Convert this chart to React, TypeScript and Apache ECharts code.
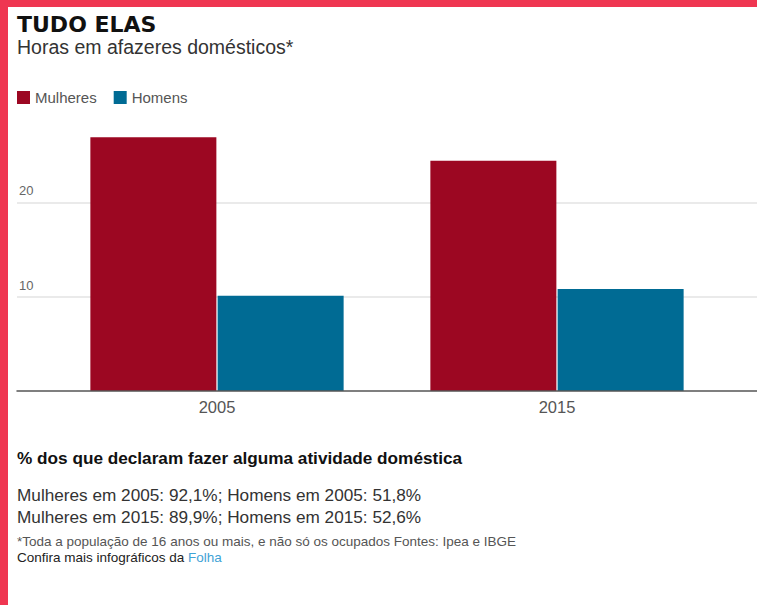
import { useEffect, useRef } from 'react';
import * as echarts from 'echarts';

const categories = ['2005', '2015'];
const seriesNames = ['Mulheres', 'Homens'];
const mulheresHoras = [26.9, 24.4];
const homensHoras = [10.1, 10.8];
const yMax = 30;
const yInterval = 10;
const pctMulheres = [92.1, 89.9];
const pctHomens = [51.8, 52.6];

const titleText = 'TUDO ELAS';
const subtitleText = 'Horas em afazeres domésticos*';
const headingText = '% dos que declaram fazer alguma atividade doméstica';
const footnoteText = '*Toda a população de 16 anos ou mais, e não só os ocupados Fontes: Ipea e IBGE';

const RED = '#9c0722';
const BLUE = '#006b94';
const FRAME = '#ef3651';
const FONT = '"Liberation Sans", Arial, sans-serif';

const fmt = (v: number) => v.toFixed(1).replace('.', ',') + '%';

export default function App() {
  const ref = useRef<HTMLDivElement>(null);
  useEffect(() => {
    const chart = echarts.init(ref.current!, null, { renderer: 'svg' });
    const statLines = categories.map(
      (c, i) => `Mulheres em ${c}: ${fmt(pctMulheres[i])}; Homens em ${c}: ${fmt(pctHomens[i])}`
    );
    const option: any = {
      animation: false,
      backgroundColor: '#fff',
      textStyle: { fontFamily: FONT },
      legend: {
        data: seriesNames,
        left: 17,
        top: 90,
        padding: 0,
        icon: 'rect',
        itemWidth: 13,
        itemHeight: 13,
        itemGap: 17,
        textStyle: { fontSize: 15, color: '#555', fontFamily: FONT },
      },
      grid: [
        { left: 17, right: 0, top: 108, bottom: 214 },
        { left: 47, right: 30, top: 108, bottom: 214 },
      ],
      xAxis: [
        {
          type: 'value',
          gridIndex: 0,
          min: 0,
          max: 1,
          z: 5,
          axisLine: { show: true, lineStyle: { color: '#555', width: 1.5 } },
          axisTick: { show: false },
          axisLabel: { show: false },
          splitLine: { show: false },
        },
        {
          type: 'category',
          gridIndex: 1,
          data: categories,
          axisLine: { show: false },
          axisTick: { show: false },
          axisLabel: { margin: 7, fontSize: 16.5, color: '#555', fontFamily: FONT },
        },
      ],
      yAxis: [
        {
          type: 'value',
          gridIndex: 0,
          min: 0,
          max: yMax,
          interval: yInterval,
          axisLine: { show: false },
          axisTick: { show: false },
          axisLabel: {
            inside: true,
            margin: 2,
            verticalAlign: 'bottom',
            padding: [0, 0, 5, 0],
            color: '#666',
            fontSize: 13,
            fontFamily: FONT,
            formatter: (v: number) => (v === 0 || v === yMax ? '' : String(v)),
          },
          splitLine: {
            show: true,
            showMinLine: false,
            showMaxLine: false,
            lineStyle: { color: '#e3e3e3', width: 1.5 },
          },
        },
        {
          type: 'value',
          gridIndex: 1,
          min: 0,
          max: yMax,
          interval: yInterval,
          show: false,
          splitLine: { show: false },
        },
      ],
      series: [
        {
          name: seriesNames[0],
          type: 'bar',
          xAxisIndex: 1,
          yAxisIndex: 1,
          data: mulheresHoras,
          barWidth: 126,
          barGap: '1%',
          itemStyle: { color: RED },
        },
        {
          name: seriesNames[1],
          type: 'bar',
          xAxisIndex: 1,
          yAxisIndex: 1,
          data: homensHoras,
          barWidth: 126,
          barGap: '1%',
          itemStyle: { color: BLUE },
        },
      ],
      graphic: [
        { type: 'rect', z: 100, shape: { x: 0, y: 0, width: 757, height: 7 }, style: { fill: FRAME } },
        { type: 'rect', z: 100, shape: { x: 0, y: 0, width: 8, height: 605 }, style: { fill: FRAME } },
        {
          type: 'text',
          x: 17,
          y: 24,
          style: {
            text: titleText,
            fontSize: 22,
            fontWeight: 'bold',
            fontFamily: '"DejaVu Sans", sans-serif',
            fill: '#111',
            verticalAlign: 'middle',
          },
        },
        {
          type: 'text',
          x: 17,
          y: 47,
          style: { text: subtitleText, fontSize: 19.5, fontFamily: FONT, fill: '#333', verticalAlign: 'middle' },
        },
        {
          type: 'text',
          x: 17,
          y: 458,
          style: {
            text: headingText,
            fontSize: 17.2,
            fontWeight: 'bold',
            fontFamily: FONT,
            fill: '#111',
            verticalAlign: 'middle',
          },
        },
        {
          type: 'text',
          x: 17,
          y: 495,
          style: { text: statLines[0], fontSize: 17.2, fontFamily: FONT, fill: '#333', verticalAlign: 'middle' },
        },
        {
          type: 'text',
          x: 17,
          y: 517,
          style: { text: statLines[1], fontSize: 17.2, fontFamily: FONT, fill: '#333', verticalAlign: 'middle' },
        },
        {
          type: 'text',
          x: 17,
          y: 541,
          style: { text: footnoteText, fontSize: 13.5, fontFamily: FONT, fill: '#555', verticalAlign: 'middle' },
        },
        {
          type: 'text',
          x: 17,
          y: 557,
          style: {
            text: '{a|Confira mais infográficos da }{b|Folha}',
            fontFamily: FONT,
            fontSize: 13.5,
            verticalAlign: 'middle',
            rich: {
              a: { fontSize: 13.5, fontFamily: FONT, fill: '#222', color: '#222' },
              b: { fontSize: 13.5, fontFamily: FONT, fill: '#3fa3d6', color: '#3fa3d6' },
            },
          },
        },
      ],
    };
    chart.setOption(option);
    return () => chart.dispose();
  }, []);
  return (
    <div
      ref={ref}
      style={{ position: 'fixed', left: 0, top: 0, width: 757, height: 605, background: '#fff' }}
    />
  );
}
